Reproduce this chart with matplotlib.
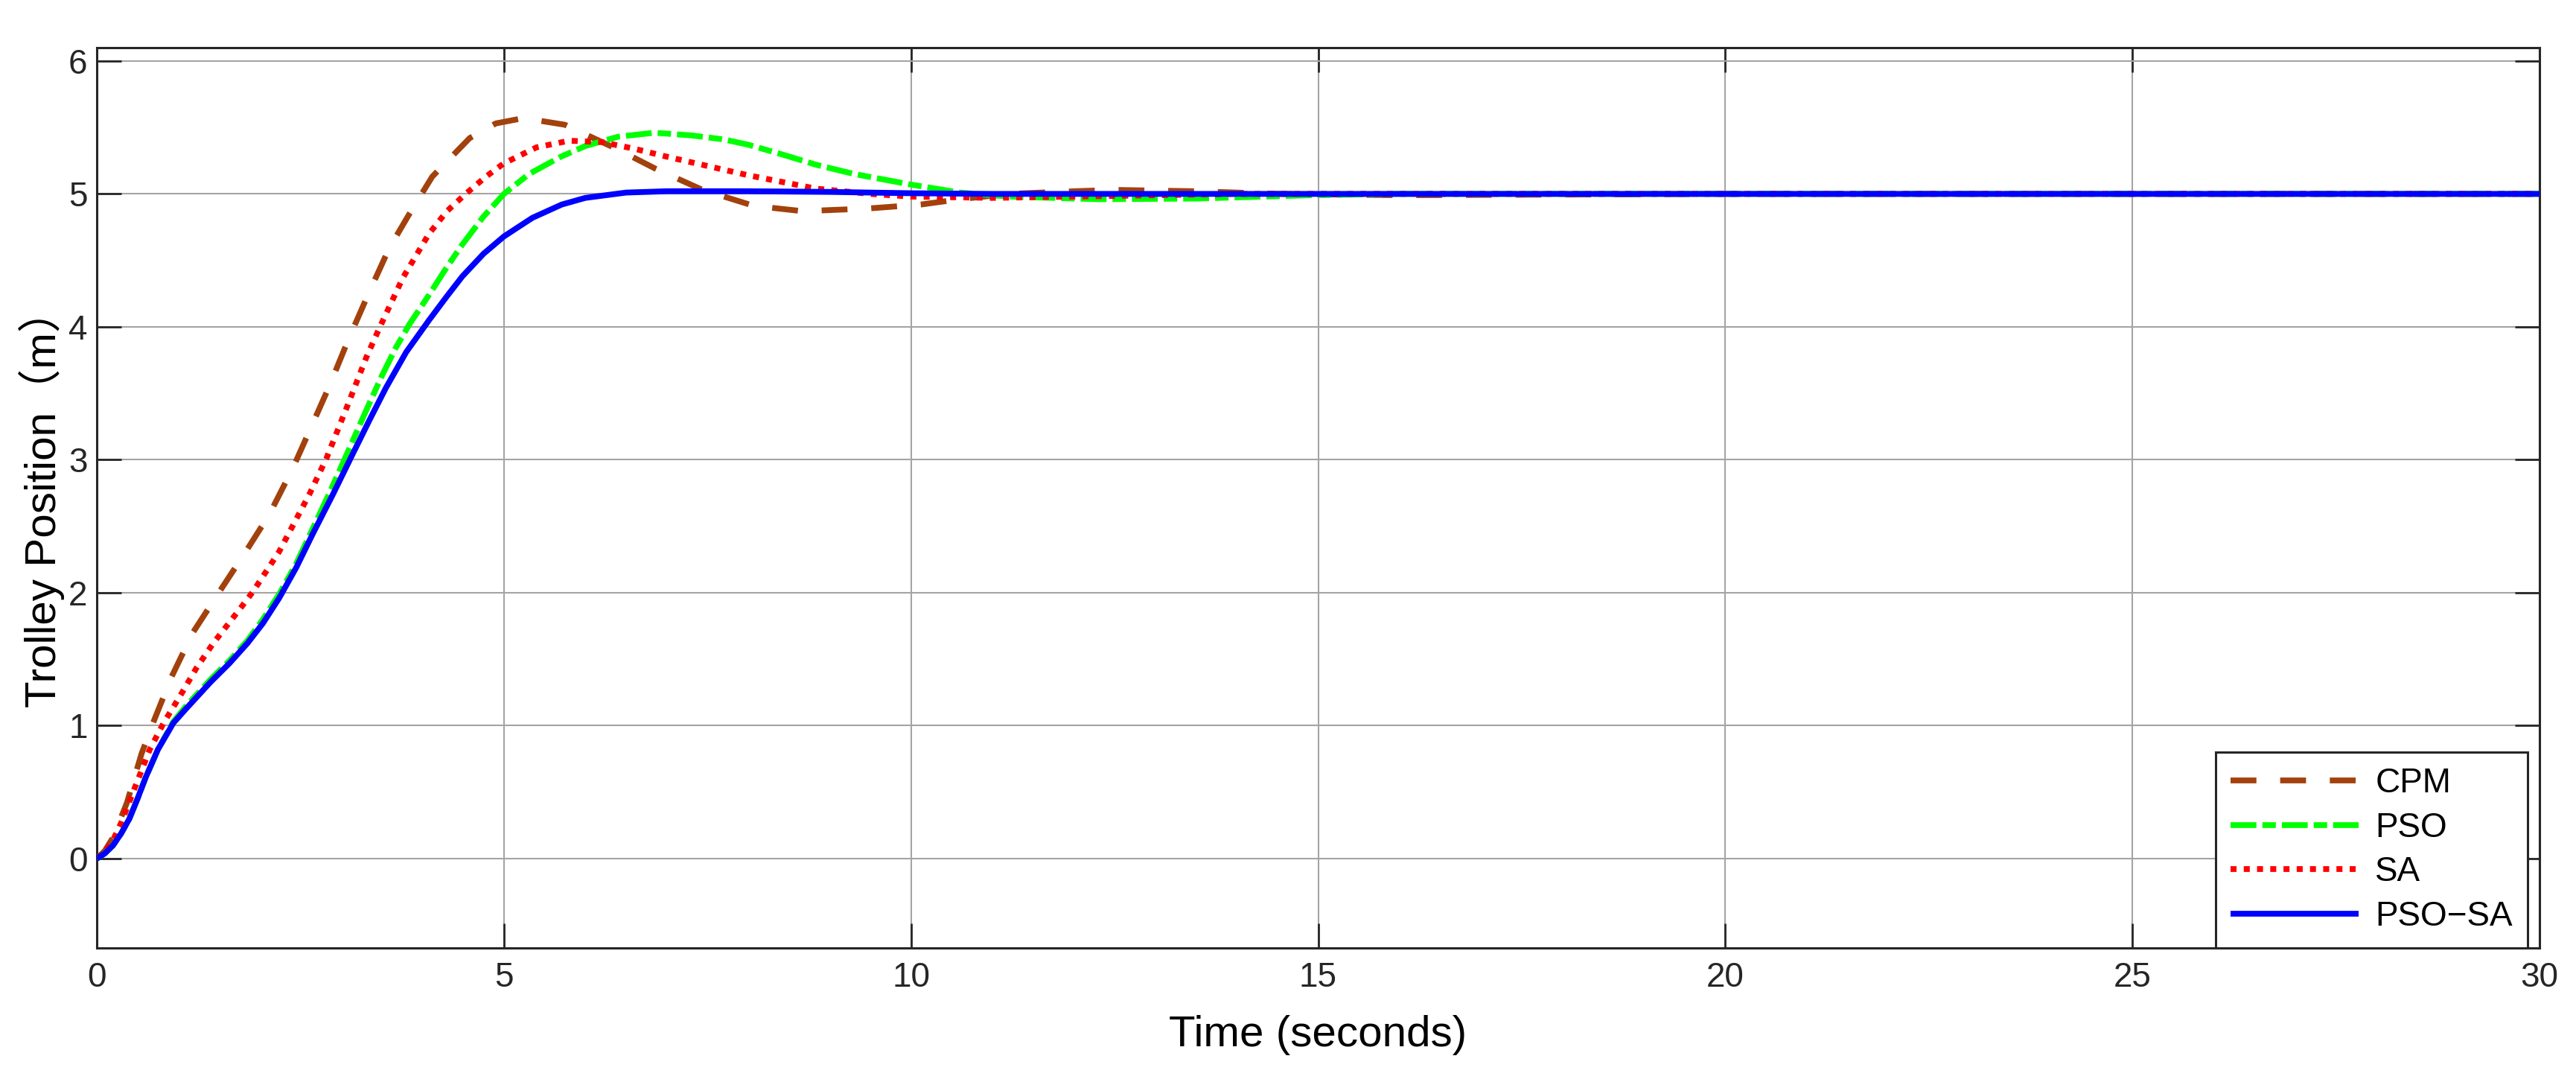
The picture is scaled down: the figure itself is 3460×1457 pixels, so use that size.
import matplotlib
matplotlib.use("Agg")
import matplotlib.pyplot as plt

plt.rcParams['font.family'] = ['Liberation Sans', 'Noto Sans CJK SC', 'DejaVu Sans']
plt.rcParams['lines.scale_dashes'] = False

# ---------------- data ----------------
t_cpm = [0, 0.1, 0.2, 0.37, 0.55, 0.71, 0.92, 1.18, 1.53, 1.82, 2.12, 2.41, 2.65, 2.86,
         3.08, 3.33, 3.59, 3.82, 4.12, 4.58, 4.9, 5.24, 5.75, 6.38, 6.86, 7.44, 8.07,
         8.67, 9.47, 10.12, 10.6, 11.2, 12.0, 12.5, 13.5, 14.5, 16.0, 18.0, 20.0, 30.0]
y_cpm = [0, 0.06, 0.16, 0.42, 0.79, 1.05, 1.37, 1.70, 2.03, 2.30, 2.59, 2.94, 3.27, 3.56,
         3.89, 4.24, 4.59, 4.83, 5.13, 5.42, 5.53, 5.57, 5.52, 5.34, 5.19, 5.03, 4.91,
         4.87, 4.89, 4.92, 4.96, 5.00, 5.02, 5.03, 5.02, 5.00, 4.99, 4.995, 5.0, 5.0]

t_pso = [0, 0.1, 0.2, 0.3, 0.4, 0.5, 0.6, 0.75, 0.94, 1.1, 1.22, 1.4, 1.63, 1.85, 2.04,
         2.24, 2.45, 2.65, 2.85, 3.04, 3.3, 3.5, 3.67, 3.84, 4.08, 4.3, 4.49, 4.75, 5.0,
         5.31, 5.7, 6.0, 6.4, 6.85, 7.3, 7.7, 8.0, 8.4, 8.83, 9.3, 10.0, 10.6, 11.2, 12.3,
         13.5, 14.9, 16.0, 30.0]
y_pso = [0, 0.04, 0.10, 0.19, 0.30, 0.45, 0.61, 0.82, 1.03, 1.15, 1.23, 1.35, 1.49, 1.64,
         1.80, 1.99, 2.22, 2.48, 2.74, 3.00, 3.36, 3.63, 3.84, 4.02, 4.24, 4.45, 4.62, 4.83,
         5.00, 5.15, 5.28, 5.36, 5.43, 5.46, 5.44, 5.41, 5.37, 5.30, 5.22, 5.15, 5.07, 5.01,
         4.98, 4.96, 4.965, 4.99, 5.0, 5.0]

t_sa = [0, 0.1, 0.2, 0.3, 0.49, 0.65, 0.82, 1.02, 1.22, 1.43, 1.76, 1.92, 2.24, 2.61, 2.82,
        3.1, 3.31, 3.47, 3.76, 4.08, 4.3, 4.53, 4.78, 5.0, 5.4, 5.8, 6.2, 6.6, 7.0, 7.5,
        8.0, 8.5, 8.83, 9.5, 10.0, 11.0, 12.0, 13.0, 14.0, 30.0]
y_sa = [0, 0.05, 0.14, 0.27, 0.57, 0.82, 1.02, 1.22, 1.43, 1.62, 1.88, 2.01, 2.31, 2.74,
        3.01, 3.44, 3.77, 3.99, 4.37, 4.70, 4.87, 5.00, 5.13, 5.23, 5.35, 5.40, 5.39, 5.34,
        5.28, 5.21, 5.14, 5.08, 5.04, 5.00, 4.98, 4.97, 4.98, 4.99, 5.0, 5.0]

t_psosa = [0, 0.1, 0.2, 0.3, 0.4, 0.5, 0.6, 0.75, 0.94, 1.1, 1.22, 1.4, 1.63, 1.85, 2.04,
           2.24, 2.45, 2.65, 2.9, 3.14, 3.35, 3.55, 3.8, 4.08, 4.3, 4.49, 4.75, 5.0, 5.35,
           5.71, 6.0, 6.5, 7.0, 8.0, 9.0, 10.0, 11.0, 30.0]
y_psosa = [0, 0.04, 0.10, 0.19, 0.30, 0.45, 0.61, 0.82, 1.02, 1.13, 1.21, 1.33, 1.47, 1.62,
           1.77, 1.96, 2.19, 2.44, 2.74, 3.04, 3.30, 3.54, 3.81, 4.05, 4.23, 4.38, 4.55,
           4.68, 4.82, 4.92, 4.97, 5.01, 5.02, 5.02, 5.015, 5.005, 5.0, 5.0]

labels = ['CPM', 'PSO', 'SA', 'PSO\u2212SA']
x_ticks = [0, 5, 10, 15, 20, 25, 30]
y_ticks = [0, 1, 2, 3, 4, 5, 6]

# ---------------- figure ----------------
W, H = 3460, 1457
fig = plt.figure(figsize=(W / 100, H / 100), dpi=100)
ax_l, ax_r, ax_t, ax_b = 130, 3411, 64, 1273
ax = fig.add_axes([ax_l / W, 1 - ax_b / H, (ax_r - ax_l) / W, (ax_b - ax_t) / H])

lw = 5.6
ax.plot(t_cpm, y_cpm, color='#A3410C', lw=lw, dashes=(25, 23), dash_capstyle='butt',
        label=labels[0], zorder=3)
ax.plot(t_pso, y_pso, color='#00FF00', lw=lw, dashes=(25, 5.8, 13, 5.8), dash_capstyle='butt',
        label=labels[1], zorder=4)
ax.plot(t_sa, y_sa, color='#FF0000', lw=lw, dashes=(5.8, 7), dash_capstyle='butt',
        label=labels[2], zorder=5)
ax.plot(t_psosa, y_psosa, color='#0000FF', lw=lw, solid_capstyle='butt',
        label=labels[3], zorder=6)

ax.set_xlim(0, 30)
ax.set_ylim(-0.672, 6.1)
ax.set_xticks(x_ticks)
ax.set_yticks(y_ticks)
ax.set_xticklabels([str(v) for v in x_ticks])
ax.set_yticklabels([str(v) for v in y_ticks])

ax.grid(True, color='#a4a4a4', lw=1.5, zorder=0)
ax.set_axisbelow(True)
for s in ax.spines.values():
    s.set_color('#262626')
    s.set_linewidth(2.2)

ax.tick_params(axis='both', which='major', direction='in', length=23.8, width=2,
               colors='#262626', labelsize=33, top=True, right=True)
ax.tick_params(axis='x', pad=13)
ax.tick_params(axis='y', pad=9)

fig.text(((ax_l + ax_r) / 2) / W, 1 - 1405 / H, 'Time (seconds)', fontsize=42,
         ha='center', va='baseline', color='#000000')
fig.text(75 / W, 1 - ((ax_t + ax_b) / 2) / H, 'Trolley Position\uff08m\uff09', fontsize=42,
         ha='center', va='baseline', rotation=90, rotation_mode='anchor', color='#000000',
         family=['Liberation Sans', 'Noto Sans CJK SC'])

leg = ax.legend(loc='lower right', bbox_to_anchor=((3395 - ax_l) / (ax_r - ax_l), 0.0),
                borderaxespad=0, fontsize=33, handlelength=3.76, handletextpad=0.48,
                labelspacing=0.34, borderpad=0.44, fancybox=False, framealpha=1,
                edgecolor='#262626')
leg.get_frame().set_linewidth(2.2)
for txt in leg.get_texts():
    txt.set_color('#000000')

fig.savefig('out.png', dpi=100, facecolor='white')
